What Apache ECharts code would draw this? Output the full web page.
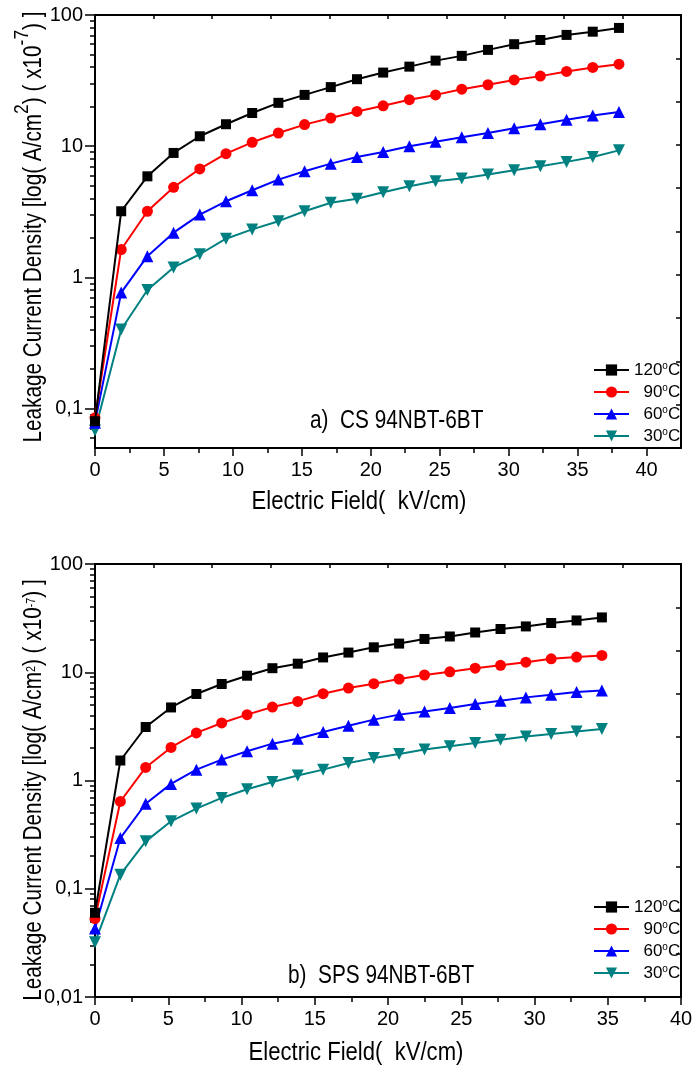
<!DOCTYPE html>
<html>
<head>
<meta charset="utf-8">
<script src="https://cdn.jsdelivr.net/npm/echarts@6/dist/echarts.min.js"></script>
<style>
  html, body { margin: 0; padding: 0; background: #ffffff; }
  #chart { width: 694px; height: 1070px; }
</style>
</head>
<body>
<div id="chart"></div>
<script>
// ---- data -------------------------------------------------------------
const seriesNames = ['120°C', '90°C', '60°C', '30°C'];

// electric field (kV/cm), panel a: conventional sintering
const fieldCS = [0, 1.9, 3.8, 5.7, 7.6, 9.5, 11.4, 13.3, 15.2, 17.1, 19.0,
                 20.9, 22.8, 24.7, 26.6, 28.5, 30.4, 32.3, 34.2, 36.1, 38.0];
const cs120 = [0.08, 3.19, 5.89, 8.88, 11.9, 14.7, 17.9, 21.4, 24.6, 28.2, 32.4,
               36.4, 40.4, 44.9, 48.8, 54.2, 59.9, 64.5, 70.5, 74.6, 79.7];
const cs90  = [0.085, 1.63, 3.19, 4.86, 6.71, 8.77, 10.7, 12.6, 14.6, 16.4, 18.4,
               20.3, 22.6, 24.6, 27.2, 29.4, 32.0, 34.2, 37.1, 39.8, 42.2];
const cs60  = [0.078, 0.765, 1.45, 2.19, 3.01, 3.80, 4.61, 5.56, 6.43, 7.36, 8.27,
               9.03, 10.0, 10.8, 11.7, 12.6, 13.7, 14.7, 15.9, 17.1, 18.2];
const cs30  = [0.068, 0.40, 0.80, 1.19, 1.50, 1.97, 2.32, 2.68, 3.19, 3.70, 3.97,
               4.45, 4.95, 5.40, 5.66, 6.07, 6.55, 7.02, 7.59, 8.27, 9.29];

// electric field (kV/cm), panel b: spark plasma sintering
const fieldSPS = [0, 1.73, 3.46, 5.19, 6.92, 8.65, 10.38, 12.11, 13.84, 15.57, 17.3,
                  19.03, 20.76, 22.49, 24.22, 25.95, 27.68, 29.41, 31.14, 32.87, 34.6];
const sps120 = [0.06, 1.53, 3.12, 4.73, 6.30, 7.79, 9.29, 10.9, 12.0, 13.7, 15.2,
                17.0, 18.4, 20.3, 21.4, 23.3, 25.1, 26.5, 28.5, 30.1, 32.1];
const sps90  = [0.053, 0.64, 1.32, 2.02, 2.75, 3.40, 4.06, 4.77, 5.38, 6.34, 7.15,
                7.84, 8.66, 9.43, 10.1, 10.9, 11.6, 12.4, 13.3, 13.8, 14.3];
const sps60  = [0.043, 0.294, 0.61, 0.93, 1.26, 1.56, 1.86, 2.19, 2.43, 2.81, 3.21,
                3.65, 4.06, 4.35, 4.67, 5.09, 5.46, 5.86, 6.21, 6.57, 6.80];
const sps30  = [0.032, 0.135, 0.274, 0.42, 0.55, 0.69, 0.83, 0.97, 1.11, 1.26, 1.45,
                1.61, 1.76, 1.93, 2.07, 2.22, 2.38, 2.55, 2.69, 2.84, 2.99];

// tick positions
const xMajorTicks = [0, 5, 10, 15, 20, 25, 30, 35, 40];
const xMinorTicks = [2.5, 7.5, 12.5, 17.5, 22.5, 27.5, 32.5, 37.5];
const yMinorCS  = [0.06, 0.07, 0.08, 0.09,
                   0.2, 0.3, 0.4, 0.5, 0.6, 0.7, 0.8, 0.9,
                   2, 3, 4, 5, 6, 7, 8, 9,
                   20, 30, 40, 50, 60, 70, 80, 90];
const yMinorSPS = [0.02, 0.03, 0.04, 0.05, 0.06, 0.07, 0.08, 0.09,
                   0.2, 0.3, 0.4, 0.5, 0.6, 0.7, 0.8, 0.9,
                   2, 3, 4, 5, 6, 7, 8, 9,
                   20, 30, 40, 50, 60, 70, 80, 90];

// ---- styling ----------------------------------------------------------
const FONT = "'Liberation Sans', Arial, sans-serif";
const colors = ['#000000', '#ff0000', '#0000ff', '#008080'];
const symbols = ['rect', 'circle', 'triangle', 'triangle'];
const symbolRotations = [0, 0, 0, 180];
const symbolSizes = [10, 11, 12, 12];

const panels = [
  {
    grid: { left: 95, top: 15, width: 586, height: 433 },
    xMax: 42.5, yMin: 0.05, yMax: 100,
    field: fieldCS, values: [cs120, cs90, cs60, cs30], yMinor: yMinorCS,
    yName: '{m|Leakage Current Density [log( A/cm}{s|2}{m|) ( x10}{s|-7}{m|) ]}',
    supSize: 21, supRaise: 14, yNameCenter: 227,
    xNameCenter: 359, xNameY: 502,
    note: 'a)  CS 94NBT-6BT', noteLeft: 310, noteY: 421, legendTop: 361
  },
  {
    grid: { left: 95, top: 564, width: 586, height: 433 },
    xMax: 40, yMin: 0.01, yMax: 100,
    field: fieldSPS, values: [sps120, sps90, sps60, sps30], yMinor: yMinorSPS,
    yName: '{m|Leakage Current Density [log( A/cm}{s|2}{m|) ( x10}{s|-7}{m|) ]}',
    supSize: 13, supRaise: 9, yNameCenter: 790,
    xNameCenter: 356, xNameY: 1053,
    note: 'b)  SPS 94NBT-6BT', noteLeft: 288, noteY: 976, legendTop: 898
  }
];

function decimalComma(v) {
  return v < 1 ? String(v).replace('.', ',') : String(v);
}

const grids = [], xAxes = [], yAxes = [], series = [], legends = [], graphics = [];

panels.forEach(function (p, gi) {
  grids.push(Object.assign({ outerBoundsMode: 'none', containLabel: false }, p.grid));
  const xBase = xAxes.length, yBase = yAxes.length;

  // bottom axis: labels and major ticks
  xAxes.push({
    type: 'value', gridIndex: gi, position: 'bottom', min: 0, max: p.xMax,
    axisLine: { onZero: false, lineStyle: { color: '#000', width: 2 } },
    axisTick: { inside: false, length: 8, customValues: xMajorTicks, lineStyle: { color: '#000', width: 1.5 } },
    axisLabel: { customValues: xMajorTicks, margin: 12, color: '#000', fontSize: 20, fontFamily: FONT },
    splitLine: { show: false }
  });
  // bottom axis: minor ticks
  xAxes.push({
    type: 'value', gridIndex: gi, position: 'bottom', min: 0, max: p.xMax,
    axisLine: { show: false, onZero: false },
    axisTick: { inside: false, length: 5, customValues: xMinorTicks, lineStyle: { color: '#000', width: 1.5 } },
    axisLabel: { show: false }, splitLine: { show: false }
  });
  // top frame axis with ten inner divisions
  xAxes.push({
    type: 'value', gridIndex: gi, position: 'top', min: 0, max: 10, interval: 1,
    axisLine: { onZero: false, lineStyle: { color: '#000', width: 2 } },
    axisTick: { inside: true, length: 4, lineStyle: { color: '#000', width: 1.5 } },
    axisLabel: { show: false }, splitLine: { show: false }
  });

  // left log axis: decade labels and ticks
  yAxes.push({
    type: 'log', logBase: 10, gridIndex: gi, position: 'left', min: p.yMin, max: p.yMax,
    axisLine: { onZero: false, lineStyle: { color: '#000', width: 2 } },
    axisTick: { inside: false, length: 10, lineStyle: { color: '#000', width: 1.5 } },
    axisLabel: { showMinLabel: p.yMin === 0.01, margin: 12, color: '#000', fontSize: 20, fontFamily: FONT,
                 formatter: decimalComma },
    splitLine: { show: false }
  });
  // left axis minor ticks, placed on a decade-exponent scale spanning the same range
  yAxes.push({
    type: 'value', gridIndex: gi, position: 'left',
    min: Math.log10(p.yMin), max: Math.log10(p.yMax),
    axisLine: { show: false, onZero: false },
    axisTick: { inside: false, length: 5, customValues: p.yMinor.map(Math.log10),
                lineStyle: { color: '#000', width: 1.5 } },
    axisLabel: { show: false }, splitLine: { show: false }
  });
  // right frame axis with ten inner divisions
  yAxes.push({
    type: 'value', gridIndex: gi, position: 'right', min: 0, max: 10, interval: 1,
    axisLine: { onZero: false, lineStyle: { color: '#000', width: 2 } },
    axisTick: { inside: true, length: 5, lineStyle: { color: '#000', width: 1.5 } },
    axisLabel: { show: false }, splitLine: { show: false }
  });

  p.values.forEach(function (vals, si) {
    series.push({
      type: 'line', name: seriesNames[si],
      xAxisIndex: xBase, yAxisIndex: yBase,
      data: p.field.map(function (x, i) { return [x, vals[i]]; }),
      symbol: symbols[si], symbolSize: symbolSizes[si], symbolRotate: symbolRotations[si],
      showAllSymbol: true,
      lineStyle: { color: colors[si], width: 2 },
      itemStyle: { color: colors[si], borderWidth: 0 },
      emphasis: { disabled: true },
      z: 10 - si,
      animation: false
    });
  });

  legends.push({
    orient: 'vertical', left: 593, top: p.legendTop, padding: 0,
    itemWidth: 35, itemHeight: 14, itemGap: 4,
    selectedMode: false,
    data: seriesNames,
    lineStyle: { width: 2 },
    formatter: function (name) {
      const num = name.replace('°C', '');
      return (num.length < 3 ? '  ' : '') + '{t|' + num + '}{o|o}{t|C}';
    },
    textStyle: {
      color: '#000', fontSize: 17, fontFamily: FONT,
      rich: {
        t: { fontSize: 17, fontFamily: FONT, color: '#000', lineHeight: 18, verticalAlign: 'bottom' },
        o: { fontSize: 10, fontFamily: FONT, color: '#000', lineHeight: 10, verticalAlign: 'bottom',
             padding: [0, 0, 8, 0] }
      }
    }
  });

  // axis titles (horizontally condensed lettering)
  graphics.push({
    type: 'text', x: p.xNameCenter, y: p.xNameY, scaleX: 0.85,
    style: { text: 'Electric Field(  kV/cm)', fontSize: 26, fontFamily: FONT, fill: '#000',
             align: 'center', verticalAlign: 'middle' }
  });
  graphics.push({
    type: 'text', x: 47, y: p.yNameCenter, rotation: Math.PI / 2, scaleX: 0.83,
    style: {
      text: p.yName, fill: '#000', align: 'center', verticalAlign: 'bottom',
      rich: {
        m: { fontSize: 25, fontFamily: FONT, fill: '#000', verticalAlign: 'bottom' },
        s: { fontSize: p.supSize, fontFamily: FONT, fill: '#000', verticalAlign: 'bottom',
             padding: [0, 0, p.supRaise, 0] }
      }
    }
  });
  // sample label inside the plot
  graphics.push({
    type: 'text', x: p.noteLeft, y: p.noteY, scaleX: 0.8,
    style: { text: p.note, fontSize: 26, fontFamily: FONT, fill: '#000',
             align: 'left', verticalAlign: 'middle' }
  });
});

const chart = echarts.init(document.getElementById('chart'), null, { renderer: 'canvas' });
chart.setOption({
  backgroundColor: '#ffffff',
  animation: false,
  grid: grids,
  xAxis: xAxes,
  yAxis: yAxes,
  legend: legends,
  graphic: graphics,
  series: series
});
</script>
</body>
</html>
